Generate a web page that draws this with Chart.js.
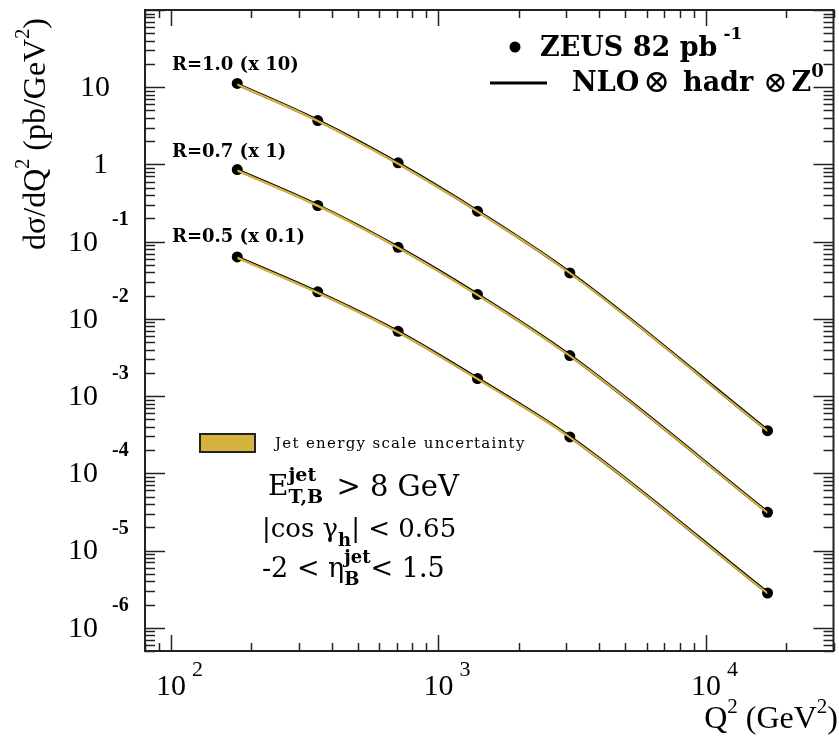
<!DOCTYPE html>
<html>
<head>
<meta charset="utf-8">
<script src="https://cdn.jsdelivr.net/npm/chart.js@4"></script>
<style>
  html,body{margin:0;padding:0;background:#fff;}
  #wrap{width:839px;height:736px;}
</style>
</head>
<body>
<div id="wrap"><canvas id="c" width="839" height="736"></canvas></div>
<script>
// Q2 bin centres (GeV^2)
const q2 = [177, 354, 707, 1400, 3100, 17000];

// ZEUS data, already scaled (x10, x1, x0.1)
const zeusR10 = [11.2, 3.7, 1.05, 0.248, 0.0394, 3.57e-4];
const zeusR07 = [0.859, 0.294, 0.0845, 0.0207, 3.35e-3, 3.13e-5];
const zeusR05 = [0.0635, 0.0224, 6.9e-3, 1.69e-3, 2.96e-4, 2.82e-6];

// NLO (x hadr x Z0) central curves
const nloR10 = [11.0, 3.72, 1.04, 0.250, 0.0400, 3.6e-4];
const nloR07 = [0.850, 0.296, 0.0850, 0.0208, 3.38e-3, 3.15e-5];
const nloR05 = [0.0630, 0.0222, 6.85e-3, 1.70e-3, 2.98e-4, 2.85e-6];

// jet energy scale band edges
const jesR10Lo = [10.45, 3.53, 0.985, 0.237, 0.0379, 3.41e-4];
const jesR10Hi = [11.25, 3.80, 1.06, 0.255, 0.0408, 3.67e-4];
const jesR07Lo = [0.805, 0.280, 0.0805, 0.0197, 3.20e-3, 2.98e-5];
const jesR07Hi = [0.868, 0.302, 0.0867, 0.0212, 3.45e-3, 3.21e-5];
const jesR05Lo = [0.0596, 0.0210, 6.48e-3, 1.61e-3, 2.82e-4, 2.70e-6];
const jesR05Hi = [0.0643, 0.0226, 6.99e-3, 1.73e-3, 3.04e-4, 2.91e-6];

// axis decades
const xDecades = [100, 1000, 10000];
const yDecades = [1e-6, 1e-5, 1e-4, 1e-3, 1e-2, 1e-1, 1, 10];

const GOLD = '#d4b43c';
const pts = (ys)=> q2.map((x,i)=>({x, y:ys[i]}));

function band(lo, hi){
  return [
    {data:pts(hi), borderWidth:0, pointRadius:0, fill:'+1', backgroundColor:GOLD, cubicInterpolationMode:'monotone'},
    {data:pts(lo), borderWidth:0, pointRadius:0, fill:false, cubicInterpolationMode:'monotone'}
  ];
}
const curve = (ys)=>({data:pts(ys), borderColor:'#000', borderWidth:3, pointRadius:0, fill:false, cubicInterpolationMode:'monotone'});
const dots = (ys)=>({data:pts(ys), showLine:false, pointRadius:5.5, pointBackgroundColor:'#000', pointBorderColor:'#000', pointBorderWidth:0});

// draw a run of text pieces; piece.over = stack on previous piece (sub under sup)
function rich(ctx, x, y, parts, dry){
  let cx=x, ps=x, pw=0;
  for(const p of parts){
    ctx.font=p.f;
    const w=ctx.measureText(p.t).width;
    let dx;
    if(p.over){ dx=ps; cx=ps+Math.max(pw,w)+(p.gap||0); }
    else { dx=cx; ps=cx; pw=w; cx+=w+(p.gap||0); }
    if(!dry) ctx.fillText(p.t, dx, y+(p.dy||0));
  }
  return cx-x;
}

const SERIF='"Liberation Serif", serif';
const DV='"DejaVu Serif", serif';

const decor = {
  id:'decor',
  afterDraw(chart){
    const {ctx, chartArea:a, scales:{x, y}} = chart;
    ctx.save();
    ctx.strokeStyle='#222'; ctx.fillStyle='#000';
    // frame
    ctx.lineWidth=2;
    ctx.strokeRect(a.left, a.top, a.right-a.left, a.bottom-a.top);
    ctx.lineWidth=1.5;
    const line=(x1,y1,x2,y2)=>{ctx.beginPath();ctx.moveTo(x1,y1);ctx.lineTo(x2,y2);ctx.stroke();};
    // y ticks (left + right, inward)
    for(let e=-7;e<=2;e++){
      for(let m=1;m<=9;m++){
        const v=m*Math.pow(10,e);
        if(v<y.min*0.999||v>y.max*1.001) continue;
        const py=Math.round(y.getPixelForValue(v))+0.5;
        const L=m===1?20:10;
        line(a.left,py,a.left+L,py);
        line(a.right,py,a.right-L,py);
      }
    }
    // x ticks (bottom + top, inward)
    for(let e=1;e<=4;e++){
      for(let m=1;m<=9;m++){
        const v=m*Math.pow(10,e);
        if(v<x.min*0.999||v>x.max*1.001) continue;
        const px=Math.round(x.getPixelForValue(v))+0.5;
        const L=m===1?16:8;
        line(px,a.bottom,px,a.bottom-L);
        line(px,a.top,px,a.top+L);
      }
    }
    // y tick labels
    ctx.textBaseline='middle';
    yDecades.forEach(v=>{
      const e=Math.round(Math.log10(v));
      const py=y.getPixelForValue(v);
      ctx.font='30px '+SERIF;
      if(e===1){ ctx.textAlign='right'; ctx.fillText('10',110,py+1); }
      else if(e===0){ ctx.textAlign='right'; ctx.fillText('1',108,py+1); }
      else{
        ctx.textAlign='right'; ctx.fillText('10',98,py+1);
        ctx.font='bold 20px '+SERIF; ctx.textAlign='left';
        ctx.fillText(String(e),112,py-22);
      }
    });
    // x tick labels
    xDecades.forEach(v=>{
      const e=Math.round(Math.log10(v));
      const px=x.getPixelForValue(v);
      ctx.font='30px '+SERIF; ctx.textAlign='center';
      ctx.fillText('10',px,687);
      ctx.font='22px '+SERIF; ctx.textAlign='left';
      ctx.fillText(String(e),px+21,670);
    });
    // x title, right aligned to frame
    ctx.textAlign='left';
    const xt=[{t:'Q',f:'32px '+SERIF},{t:'2',f:'21px '+SERIF,dy:-13},{t:' (GeV',f:'32px '+SERIF},{t:'2',f:'21px '+SERIF,dy:-13},{t:')',f:'32px '+SERIF}];
    const xw=rich(ctx,0,0,xt,true);
    rich(ctx,838-xw,720,xt);
    // y title, rotated
    ctx.save();
    ctx.translate(37,250); ctx.rotate(-Math.PI/2);
    rich(ctx,0,0,[{t:'dσ/dQ',f:'32px '+SERIF},{t:'2',f:'20px '+SERIF,dy:-13},{t:' (pb/GeV',f:'32px '+SERIF},{t:'2',f:'20px '+SERIF,dy:-13},{t:')',f:'32px '+SERIF}]);
    ctx.restore();
    // legend
    ctx.beginPath(); ctx.arc(515,47,5.5,0,Math.PI*2); ctx.fill();
    rich(ctx,540,49,[{t:'ZEUS 82 pb',f:'bold 27px '+DV,gap:6},{t:'-1',f:'bold 17px '+DV,dy:-14}]);
    ctx.lineWidth=3; ctx.strokeStyle='#000'; line(490,83,547,83);
    rich(ctx,572,84,[
      {t:'NLO',f:'bold 27px '+DV,gap:4},{t:'⊗',f:'32px '+DV,gap:13},
      {t:'hadr',f:'bold 27px '+DV,gap:10},{t:'⊗',f:'29px '+DV,gap:4},
      {t:'Z',f:'bold 27px '+DV},{t:'0',f:'bold 18px '+DV,dy:-12}]);
    // R labels
    ctx.font='bold 18px '+DV;
    ctx.fillText('R=1.0 (x 10)',172,65);
    ctx.fillText('R=0.7 (x 1)',172,152);
    ctx.fillText('R=0.5 (x 0.1)',172,237);
    // JES legend box
    ctx.fillStyle=GOLD; ctx.fillRect(200,434,55,18);
    ctx.lineWidth=2; ctx.strokeStyle='#222'; ctx.strokeRect(200,434,55,18);
    ctx.fillStyle='#000';
    ctx.font='15px '+DV;
    ctx.letterSpacing='1.3px';
    ctx.fillText('Jet energy scale uncertainty',275,444);
    ctx.letterSpacing='0px';
    // cuts
    rich(ctx,268,488,[{t:'E',f:'28px '+DV},{t:'jet',f:'bold 19px '+DV,dy:-12},{t:'T,B',f:'bold 19px '+DV,dy:10,over:true,gap:4},{t:' > 8 GeV',f:'29px '+DV}]);
    rich(ctx,262,530,[{t:'|cos γ',f:'26px '+DV},{t:'h',f:'bold 18px '+DV,dy:11},{t:'| < 0.65',f:'26px '+DV}]);
    rich(ctx,262,570,[{t:'-2 < η',f:'27px '+DV},{t:'jet',f:'bold 18px '+DV,dy:-12},{t:'B',f:'bold 18px '+DV,dy:10,over:true},{t:'< 1.5',f:'27px '+DV}]);
    ctx.restore();
  }
};

new Chart(document.getElementById('c'), {
  type:'line',
  data:{datasets:[
    ...band(jesR10Lo, jesR10Hi), ...band(jesR07Lo, jesR07Hi), ...band(jesR05Lo, jesR05Hi),
    curve(nloR10), curve(nloR07), curve(nloR05),
    dots(zeusR10), dots(zeusR07), dots(zeusR05)
  ]},
  options:{
    responsive:false, animation:false, parsing:true,
    layout:{padding:{left:145, top:10, right:1, bottom:85}},
    plugins:{legend:{display:false}, tooltip:{enabled:false}},
    scales:{
      x:{type:'logarithmic', min:80, max:30000, display:false},
      y:{type:'logarithmic', min:5e-7, max:100, display:false}
    }
  },
  plugins:[decor]
});
</script>
</body>
</html>
